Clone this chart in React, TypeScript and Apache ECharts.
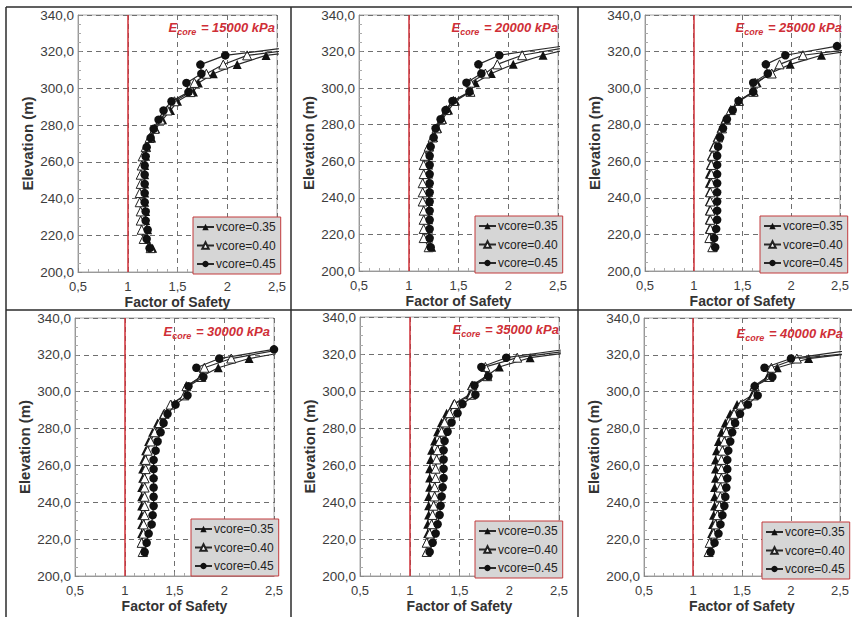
import React, { useEffect, useRef } from "react";
import * as echarts from "echarts";

// ---- data ----
const elevations = [213, 218, 223, 228, 233, 238, 243, 248, 253, 258, 263, 268, 273, 278, 283, 288, 293, 298, 303, 308, 313, 318, 323];
const seriesNames = ["vcore=0.35", "vcore=0.40", "vcore=0.45"];
const eCoreLabels = ["15000", "20000", "25000", "30000", "35000", "40000"];
const xTickValues = [0.5, 1, 1.5, 2, 2.5];
const yTickValues = [200, 220, 240, 260, 280, 300, 320, 340];
const safetyLimit = 1;

const fs15000_035 = [1.25, 1.19, 1.20, 1.18, 1.18, 1.17, 1.17, 1.17, 1.17, 1.17, 1.18, 1.19, 1.24, 1.28, 1.35, 1.43, 1.50, 1.66, 1.71, 1.86, 2.10, 2.39, 3.18];
const fs15000_040 = [1.23, 1.16, 1.14, 1.13, 1.13, 1.12, 1.12, 1.13, 1.13, 1.14, 1.15, 1.18, 1.22, 1.27, 1.33, 1.40, 1.47, 1.63, 1.67, 1.79, 1.96, 2.20, 2.95];
const fs15000_045 = [1.22, 1.19, 1.20, 1.18, 1.18, 1.17, 1.17, 1.17, 1.17, 1.17, 1.18, 1.19, 1.23, 1.26, 1.31, 1.36, 1.44, 1.61, 1.59, 1.74, 1.73, 1.98, 2.72];

const fs20000_035 = [1.23, 1.20, 1.20, 1.20, 1.20, 1.20, 1.20, 1.20, 1.20, 1.20, 1.20, 1.21, 1.25, 1.29, 1.34, 1.40, 1.47, 1.62, 1.67, 1.83, 2.05, 2.35, 2.73];
const fs20000_040 = [1.20, 1.15, 1.15, 1.15, 1.15, 1.14, 1.14, 1.14, 1.15, 1.15, 1.16, 1.20, 1.24, 1.28, 1.33, 1.38, 1.45, 1.62, 1.62, 1.77, 1.89, 2.14, 2.67];
const fs20000_045 = [1.22, 1.21, 1.21, 1.21, 1.21, 1.21, 1.21, 1.21, 1.21, 1.21, 1.21, 1.22, 1.25, 1.27, 1.32, 1.37, 1.44, 1.61, 1.58, 1.73, 1.70, 1.91, 2.55];

const fs25000_035 = [1.20, 1.17, 1.16, 1.16, 1.16, 1.16, 1.16, 1.16, 1.16, 1.17, 1.18, 1.20, 1.24, 1.28, 1.32, 1.38, 1.47, 1.62, 1.65, 1.78, 1.99, 2.31, 2.94];
const fs25000_040 = [1.19, 1.16, 1.17, 1.17, 1.17, 1.17, 1.17, 1.18, 1.18, 1.18, 1.19, 1.21, 1.25, 1.29, 1.33, 1.38, 1.46, 1.61, 1.63, 1.80, 1.88, 2.12, 2.88];
const fs25000_045 = [1.22, 1.21, 1.23, 1.24, 1.24, 1.24, 1.24, 1.24, 1.24, 1.24, 1.24, 1.25, 1.27, 1.30, 1.34, 1.40, 1.46, 1.61, 1.61, 1.76, 1.74, 1.94, 2.47];

const fs30000_035 = [1.19, 1.17, 1.17, 1.17, 1.17, 1.17, 1.17, 1.17, 1.18, 1.18, 1.19, 1.21, 1.24, 1.28, 1.33, 1.39, 1.47, 1.60, 1.62, 1.76, 1.94, 2.25, 2.77];
const fs30000_040 = [1.18, 1.17, 1.19, 1.19, 1.20, 1.20, 1.20, 1.20, 1.20, 1.21, 1.21, 1.23, 1.26, 1.30, 1.35, 1.40, 1.46, 1.60, 1.62, 1.77, 1.80, 2.07, 2.58];
const fs30000_045 = [1.20, 1.22, 1.24, 1.27, 1.28, 1.29, 1.29, 1.29, 1.29, 1.29, 1.29, 1.31, 1.33, 1.36, 1.39, 1.43, 1.51, 1.63, 1.64, 1.79, 1.72, 1.95, 2.50];

const fs35000_035 = [1.17, 1.17, 1.18, 1.18, 1.19, 1.19, 1.19, 1.20, 1.20, 1.20, 1.21, 1.22, 1.25, 1.28, 1.32, 1.37, 1.44, 1.60, 1.62, 1.77, 1.90, 2.21, 2.93];
const fs35000_040 = [1.17, 1.17, 1.20, 1.22, 1.23, 1.24, 1.25, 1.25, 1.26, 1.26, 1.27, 1.28, 1.30, 1.32, 1.35, 1.40, 1.45, 1.62, 1.63, 1.78, 1.76, 2.08, 2.78];
const fs35000_045 = [1.20, 1.23, 1.26, 1.28, 1.30, 1.31, 1.32, 1.33, 1.34, 1.34, 1.34, 1.34, 1.35, 1.38, 1.42, 1.48, 1.53, 1.66, 1.65, 1.79, 1.72, 1.97, 2.63];

const fs40000_035 = [1.16, 1.18, 1.19, 1.20, 1.21, 1.22, 1.22, 1.22, 1.23, 1.23, 1.23, 1.24, 1.26, 1.29, 1.33, 1.38, 1.45, 1.60, 1.62, 1.76, 1.86, 2.18, 2.98];
const fs40000_040 = [1.16, 1.17, 1.21, 1.23, 1.25, 1.27, 1.28, 1.28, 1.29, 1.29, 1.29, 1.30, 1.32, 1.34, 1.38, 1.42, 1.49, 1.62, 1.63, 1.78, 1.80, 2.06, 3.00];
const fs40000_045 = [1.18, 1.22, 1.26, 1.28, 1.30, 1.32, 1.33, 1.34, 1.35, 1.35, 1.35, 1.36, 1.38, 1.40, 1.43, 1.48, 1.56, 1.66, 1.63, 1.81, 1.73, 2.00, 2.66];

const panelData = [
  [fs15000_035, fs15000_040, fs15000_045],
  [fs20000_035, fs20000_040, fs20000_045],
  [fs25000_035, fs25000_040, fs25000_045],
  [fs30000_035, fs30000_040, fs30000_045],
  [fs35000_035, fs35000_040, fs35000_045],
  [fs40000_035, fs40000_040, fs40000_045],
];

// ---- layout (pixels) ----
const layouts = [
  { grid: { left: 78, top: 15, width: 199, height: 257 }, legend: { left: 193, top: 217 }, title: { right: 577, top: 18 } },
  { grid: { left: 359, top: 15, width: 199, height: 256 }, legend: { left: 475, top: 216 }, title: { right: 294, top: 18 } },
  { grid: { left: 645, top: 15, width: 198, height: 256 }, legend: { left: 760, top: 216 }, title: { right: 10, top: 18 } },
  { grid: { left: 75, top: 318, width: 199, height: 258 }, legend: { left: 191, top: 519 }, title: { right: 582, top: 322 } },
  { grid: { left: 360, top: 317, width: 199, height: 259 }, legend: { left: 475, top: 521 }, title: { right: 293, top: 320 } },
  { grid: { left: 644, top: 318, width: 199, height: 258 }, legend: { left: 762, top: 522 }, title: { right: 9, top: 324 } },
];

const FONT = 'Arial, "Liberation Sans", Helvetica, sans-serif';
const RED = "#cf2f37";

const fmtX = (v: number) => (Number.isInteger(v) ? String(v) : String(v).replace(".", ","));
const fmtY = (v: number) => v.toFixed(1).replace(".", ",");

function buildOption() {
  const grids: any[] = [];
  const xAxes: any[] = [];
  const yAxes: any[] = [];
  const legends: any[] = [];
  const titles: any[] = [];
  const series: any[] = [];

  layouts.forEach((lay, i) => {
    grids.push({
      ...lay.grid,
      show: true,
      borderColor: "#a8a8a8",
      borderWidth: 1,
      backgroundColor: "transparent",
    });
    xAxes.push({
      gridIndex: i,
      type: "value",
      min: xTickValues[0],
      max: xTickValues[xTickValues.length - 1],
      interval: xTickValues[1] - xTickValues[0],
      axisLine: { show: true, lineStyle: { color: "#999" } },
      axisTick: { show: true, inside: true, length: 4, lineStyle: { color: "#888" } },
      minorTick: { show: true, splitNumber: 5, length: 3, lineStyle: { color: "#aaa" } },
      splitLine: { show: true, lineStyle: { color: "#6f6f6f", width: 1, type: [5, 4] } },
      axisLabel: { fontSize: 13, color: "#3c3c3c", margin: 8, fontFamily: FONT, formatter: fmtX },
      name: "Factor of Safety",
      nameLocation: "middle",
      nameGap: 23,
      nameTextStyle: { fontFamily: FONT, fontWeight: "bold", fontSize: 14, color: "#333" },
    });
    yAxes.push({
      gridIndex: i,
      type: "value",
      min: yTickValues[0],
      max: yTickValues[yTickValues.length - 1],
      interval: yTickValues[1] - yTickValues[0],
      axisLine: { show: true, lineStyle: { color: "#999" } },
      axisTick: { show: true, inside: true, length: 4, lineStyle: { color: "#888" } },
      minorTick: { show: true, splitNumber: 4, length: 3, lineStyle: { color: "#aaa" } },
      splitLine: { show: true, lineStyle: { color: "#6f6f6f", width: 1, type: [5, 4] } },
      axisLabel: { fontSize: 13.5, color: "#3c3c3c", margin: 4, fontFamily: FONT, formatter: fmtY },
      name: "Elevation (m)",
      nameLocation: "middle",
      nameGap: 43,
      nameTextStyle: { fontFamily: FONT, fontWeight: "bold", fontSize: 15, color: "#333" },
    });
    titles.push({
      text: `{e|E}{s|core}{e| = ${eCoreLabels[i]} kPa}`,
      right: lay.title.right,
      top: lay.title.top,
      padding: 0,
      textStyle: {
        rich: {
          e: { fontFamily: FONT, fontSize: 13, fontWeight: "bold", fontStyle: "italic", color: RED, lineHeight: 18, verticalAlign: "middle" },
          s: { fontFamily: FONT, fontSize: 9, fontWeight: "bold", fontStyle: "italic", color: RED, lineHeight: 18, verticalAlign: "bottom", padding: [0, 1, 0, 0] },
        },
      },
    });
    legends.push({
      show: true,
      orient: "vertical",
      left: lay.legend.left,
      top: lay.legend.top,
      data: seriesNames,
      selectedMode: false,
      backgroundColor: "#d6d6d6",
      borderColor: "#c23a3d",
      borderWidth: 1,
      borderRadius: 0,
      padding: [4, 5, 4, 3],
      itemGap: 6.5,
      itemWidth: 17,
      itemHeight: 8,
      textStyle: { fontFamily: FONT, fontSize: 12, color: "#222", padding: [0, 0, 0, -3] },
    });

    const styles = [
      { symbol: "triangle", symbolSize: 9, itemStyle: { color: "#111" } },
      { symbol: "triangle", symbolSize: 9, itemStyle: { color: "#fff", borderColor: "#222", borderWidth: 1 } },
      { symbol: "circle", symbolSize: 8.5, itemStyle: { color: "#111" } },
    ];
    panelData[i].forEach((vals, k) => {
      const s: any = {
        type: "line",
        name: seriesNames[k],
        xAxisIndex: i,
        yAxisIndex: i,
        data: vals.map((v, j) => [v, elevations[j]]),
        showSymbol: true,
        symbol: styles[k].symbol,
        symbolSize: styles[k].symbolSize,
        itemStyle: styles[k].itemStyle,
        lineStyle: { color: "#2a2a2a", width: 1.2 },
        clip: true,
        z: 3 + k,
      };
      if (k === 0) {
        s.markLine = {
          silent: true,
          symbol: "none",
          label: { show: false },
          lineStyle: { color: RED, width: 1.5, type: "solid" },
          data: [{ xAxis: safetyLimit }],
        };
      }
      series.push(s);
    });
  });

  const frame = { stroke: "#2b2b2b", lineWidth: 1.5 };
  const graphic = [
    { type: "line", shape: { x1: 6, y1: 7, x2: 852, y2: 7 }, style: frame, z: 100 },
    { type: "line", shape: { x1: 6, y1: 7, x2: 6, y2: 617 }, style: frame, z: 100 },
    { type: "line", shape: { x1: 291, y1: 7, x2: 291, y2: 617 }, style: frame, z: 100 },
    { type: "line", shape: { x1: 578, y1: 7, x2: 578, y2: 617 }, style: frame, z: 100 },
    { type: "line", shape: { x1: 6, y1: 310, x2: 852, y2: 310 }, style: frame, z: 100 },
  ];

  return {
    animation: false,
    backgroundColor: "#ffffff",
    textStyle: { fontFamily: FONT },
    title: titles,
    legend: legends,
    grid: grids,
    xAxis: xAxes,
    yAxis: yAxes,
    series,
    graphic,
  };
}

export default function App() {
  const ref = useRef<HTMLDivElement>(null);
  useEffect(() => {
    if (!ref.current) return;
    const chart = echarts.init(ref.current, undefined, { renderer: "svg" });
    chart.setOption(buildOption() as any);
    return () => chart.dispose();
  }, []);
  return (
    <div
      ref={ref}
      style={{ position: "absolute", left: 0, top: 0, width: 852, height: 617, background: "#fff" }}
    />
  );
}
